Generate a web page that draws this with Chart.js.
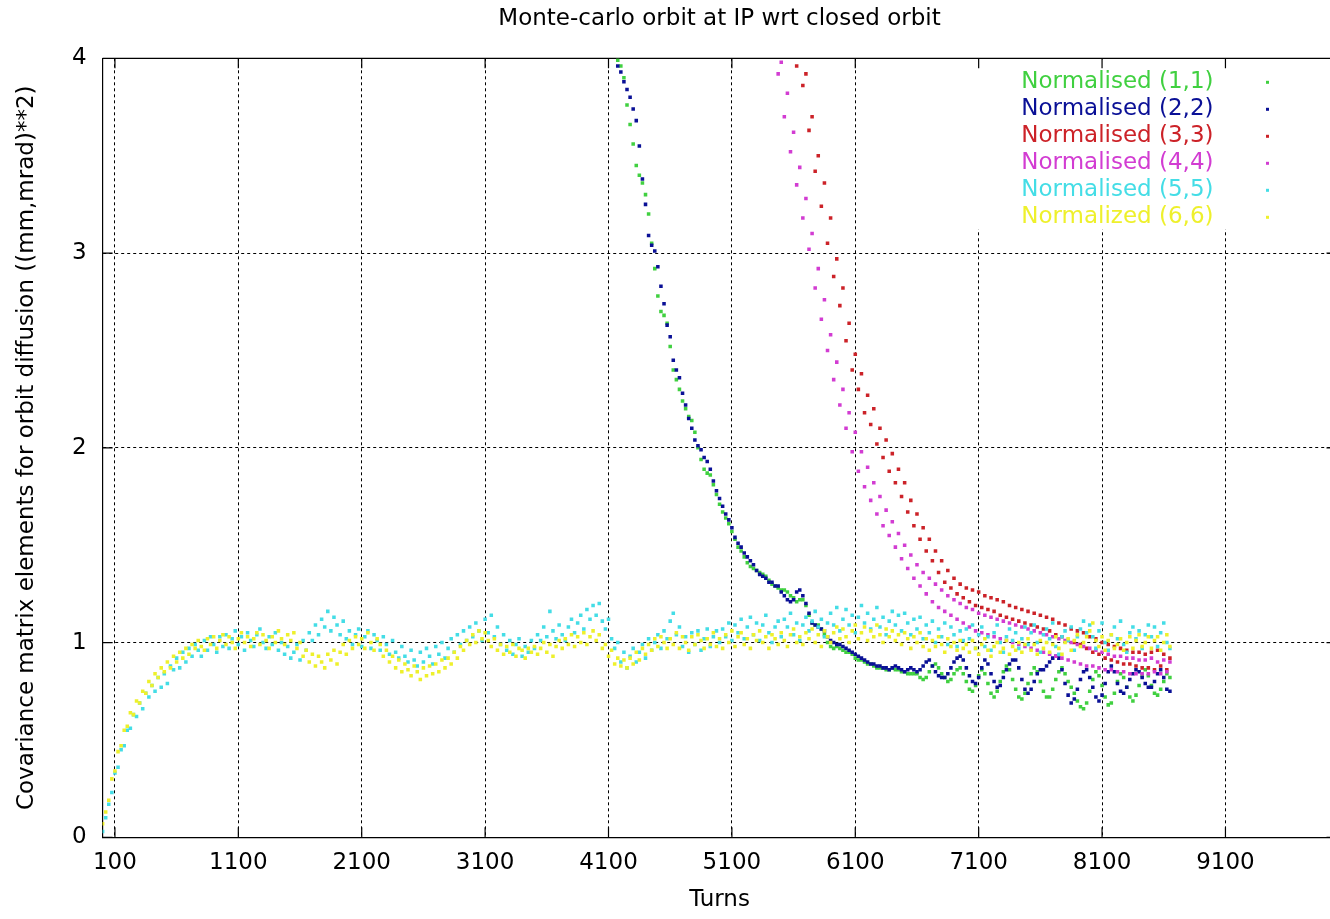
<!DOCTYPE html>
<html>
<head>
<meta charset="utf-8">
<title>Monte-carlo orbit at IP wrt closed orbit</title>
<script src="https://cdn.jsdelivr.net/npm/chart.js@4.4.1/dist/chart.umd.min.js"></script>
<style>
  html, body { margin: 0; padding: 0; background: #fff; overflow: hidden; }
  #wrap { position: relative; width: 1339px; height: 919px; }
</style>
</head>
<body>
<div id="wrap"><canvas id="chartCanvas"></canvas></div>
<script>
const chartTitle = "Monte-carlo orbit at IP wrt closed orbit";
const xTitle = "Turns";
const yTitle = "Covariance matrix elements for orbit diffusion ((mm,mrad)**2)";

const xTicks = [100, 1100, 2100, 3100, 4100, 5100, 6100, 7100, 8100, 9100];
const yTicks = [0, 1, 2, 3, 4];

const seriesNames = ["Normalised (1,1)", "Normalised (2,2)", "Normalised (3,3)",
  "Normalised (4,4)", "Normalised (5,5)", "Normalized (6,6)"];
const seriesColors = ["#40d040", "#0a1096", "#cc2228", "#d23cd2", "#44dde6", "#eef02c"];

// sampled turns
const turns = [
  0,25,50,75,100,125,150,175,200,225,250,275,300,325,350,375,400,425,450,475,
  500,525,550,575,600,625,650,675,700,725,750,775,800,825,850,875,900,925,950,975,
  1000,1025,1050,1075,1100,1125,1150,1175,1200,1225,1250,1275,1300,1325,1350,1375,1400,1425,1450,1475,
  1500,1525,1550,1575,1600,1625,1650,1675,1700,1725,1750,1775,1800,1825,1850,1875,1900,1925,1950,1975,
  2000,2025,2050,2075,2100,2125,2150,2175,2200,2225,2250,2275,2300,2325,2350,2375,2400,2425,2450,2475,
  2500,2525,2550,2575,2600,2625,2650,2675,2700,2725,2750,2775,2800,2825,2850,2875,2900,2925,2950,2975,
  3000,3025,3050,3075,3100,3125,3150,3175,3200,3225,3250,3275,3300,3325,3350,3375,3400,3425,3450,3475,
  3500,3525,3550,3575,3600,3625,3650,3675,3700,3725,3750,3775,3800,3825,3850,3875,3900,3925,3950,3975,
  4000,4025,4050,4075,4100,4125,4150,4175,4200,4225,4250,4275,4300,4325,4350,4375,4400,4425,4450,4475,
  4500,4525,4550,4575,4600,4625,4650,4675,4700,4725,4750,4775,4800,4825,4850,4875,4900,4925,4950,4975,
  5000,5025,5050,5075,5100,5125,5150,5175,5200,5225,5250,5275,5300,5325,5350,5375,5400,5425,5450,5475,
  5500,5525,5550,5575,5600,5625,5650,5675,5700,5725,5750,5775,5800,5825,5850,5875,5900,5925,5950,5975,
  6000,6025,6050,6075,6100,6125,6150,6175,6200,6225,6250,6275,6300,6325,6350,6375,6400,6425,6450,6475,
  6500,6525,6550,6575,6600,6625,6650,6675,6700,6725,6750,6775,6800,6825,6850,6875,6900,6925,6950,6975,
  7000,7025,7050,7075,7100,7125,7150,7175,7200,7225,7250,7275,7300,7325,7350,7375,7400,7425,7450,7475,
  7500,7525,7550,7575,7600,7625,7650,7675,7700,7725,7750,7775,7800,7825,7850,7875,7900,7925,7950,7975,
  8000,8025,8050,8075,8100,8125,8150,8175,8200,8225,8250,8275,8300,8325,8350,8375,8400,8425,8450,8475,
  8500,8525,8550,8575,8600,8625,8650
];

// (1,1) and (2,2) from turn 4100
const norm11 = [
  4.20,4.10,4.03,3.99,3.96,3.90,3.76,3.66,3.56,3.45,3.40,3.36,3.30,3.20,3.05,2.92,2.78,2.70,2.68,2.64,
  2.52,2.40,2.35,2.30,2.24,2.20,2.16,2.14,2.08,2.00,1.94,1.89,1.87,1.86,1.81,1.76,1.71,1.67,1.64,1.61,
  1.57,1.53,1.49,1.47,1.44,1.41,1.39,1.38,1.37,1.36,1.35,1.34,1.32,1.30,1.29,1.28,1.27,1.27,1.26,1.24,
  1.23,1.21,1.22,1.22,1.19,1.14,1.10,1.09,1.09,1.07,1.04,1.00,0.98,0.97,0.98,0.97,0.96,0.95,0.95,0.94,
  0.92,0.91,0.91,0.90,0.89,0.89,0.88,0.87,0.87,0.87,0.86,0.86,0.87,0.86,0.86,0.85,0.85,0.84,0.84,0.84,
  0.84,0.82,0.81,0.82,0.85,0.88,0.89,0.87,0.84,0.82,0.80,0.81,0.84,0.86,0.87,0.84,0.80,0.76,0.75,0.78,
  0.83,0.86,0.84,0.79,0.74,0.72,0.75,0.80,0.85,0.88,0.86,0.81,0.76,0.72,0.71,0.74,0.79,0.84,0.87,0.85,
  0.80,0.75,0.72,0.72,0.76,0.81,0.85,0.87,0.84,0.80,0.77,0.74,0.70,0.67,0.66,0.69,0.75,0.81,0.85,0.83,
  0.78,0.72,0.68,0.69,0.74,0.80,0.84,0.82,0.77,0.72,0.70,0.73,0.78,0.83,0.86,0.83,0.78,0.74,0.73,0.76,
  0.80,0.84,0.82
];
const norm22 = [
  4.12,4.06,4.01,3.96,3.93,3.88,3.84,3.80,3.74,3.68,3.55,3.38,3.25,3.09,3.04,3.01,2.93,2.83,2.74,2.63,
  2.57,2.45,2.40,2.36,2.28,2.22,2.15,2.10,2.04,2.01,1.99,1.95,1.93,1.89,1.83,1.78,1.74,1.70,1.66,1.63,
  1.59,1.54,1.51,1.49,1.46,1.44,1.42,1.40,1.37,1.35,1.34,1.33,1.31,1.31,1.29,1.29,1.26,1.24,1.22,1.21,
  1.22,1.26,1.27,1.24,1.20,1.15,1.10,1.09,1.08,1.07,1.06,1.03,1.01,1.00,0.99,0.99,0.98,0.97,0.96,0.95,
  0.94,0.93,0.92,0.91,0.90,0.89,0.89,0.88,0.88,0.87,0.87,0.86,0.87,0.88,0.87,0.86,0.85,0.86,0.87,0.86,
  0.85,0.86,0.88,0.90,0.91,0.88,0.85,0.83,0.82,0.82,0.84,0.87,0.90,0.92,0.93,0.91,0.87,0.83,0.80,0.79,
  0.82,0.87,0.91,0.89,0.84,0.80,0.77,0.78,0.82,0.86,0.89,0.91,0.91,0.87,0.81,0.76,0.74,0.76,0.80,0.84,
  0.86,0.86,0.88,0.90,0.92,0.93,0.92,0.86,0.79,0.73,0.69,0.71,0.76,0.81,0.85,0.86,0.82,0.77,0.72,0.70,
  0.73,0.79,0.85,0.88,0.85,0.79,0.75,0.74,0.77,0.81,0.84,0.86,0.85,0.82,0.79,0.77,0.77,0.80,0.84,0.86,
  0.82,0.76,0.75
];

// (3,3) and (4,4) from turn 5450
const norm33 = [
  4.50,4.45,4.38,4.30,4.25,4.18,4.12,3.96,4.02,3.86,3.92,3.63,3.70,3.42,3.50,3.24,3.36,3.05,3.18,2.88,
  2.97,2.73,2.82,2.55,2.64,2.40,2.48,2.30,2.38,2.18,2.27,2.12,2.20,2.02,2.10,1.95,2.04,1.88,1.97,1.82,
  1.89,1.75,1.82,1.67,1.73,1.60,1.66,1.53,1.59,1.47,1.53,1.42,1.47,1.36,1.42,1.31,1.37,1.28,1.33,1.25,
  1.30,1.23,1.28,1.21,1.27,1.19,1.26,1.18,1.24,1.17,1.23,1.16,1.22,1.14,1.21,1.13,1.19,1.12,1.18,1.11,
  1.17,1.10,1.16,1.09,1.15,1.08,1.14,1.07,1.13,1.06,1.12,1.04,1.10,1.03,1.09,1.01,1.07,1.00,1.06,0.99,
  1.05,0.97,1.03,0.95,1.02,0.94,1.00,0.92,0.99,0.91,0.98,0.90,0.97,0.89,0.96,0.89,0.95,0.88,0.95,0.87,
  0.94,0.87,0.95,0.86,0.96,0.88,0.94,0.86,0.92
];
const norm44 = [
  4.15,3.92,3.98,3.70,3.82,3.52,3.62,3.35,3.44,3.18,3.28,3.02,3.10,2.82,2.92,2.66,2.76,2.50,2.58,2.35,
  2.44,2.22,2.30,2.10,2.18,1.98,2.08,1.88,1.98,1.80,1.90,1.73,1.82,1.66,1.75,1.60,1.68,1.55,1.62,1.49,
  1.56,1.43,1.50,1.38,1.45,1.33,1.40,1.29,1.36,1.25,1.33,1.21,1.30,1.18,1.27,1.16,1.24,1.14,1.22,1.12,
  1.20,1.10,1.18,1.08,1.17,1.06,1.15,1.05,1.14,1.04,1.13,1.03,1.12,1.02,1.11,1.01,1.10,1.00,1.09,0.99,
  1.08,0.98,1.07,0.97,1.06,0.96,1.05,0.95,1.04,0.94,1.03,0.93,1.02,0.92,1.01,0.91,1.00,0.90,0.99,0.89,
  0.98,0.88,0.97,0.88,0.96,0.87,0.95,0.86,0.94,0.86,0.93,0.85,0.93,0.85,0.92,0.84,0.92,0.84,0.91,0.84,
  0.91,0.84,0.92,0.85,0.90,0.84,0.91,0.85,0.90
];

// (5,5) and (6,6) from turn 0
const norm55 = [
  0.03,0.10,0.17,0.23,0.33,0.36,0.45,0.47,0.55,0.56,0.63,0.62,0.69,0.66,0.74,0.72,0.78,0.75,0.82,0.77,
  0.84,0.79,0.88,0.86,0.92,0.87,0.95,0.90,0.97,0.93,0.99,0.96,0.93,1.01,0.96,1.03,0.99,0.95,1.03,0.98,
  1.04,0.97,1.02,1.06,0.99,1.03,0.96,1.05,1.01,0.98,1.04,1.07,1.00,0.97,1.03,0.99,1.05,0.96,1.00,0.94,
  0.98,0.92,0.95,0.99,0.91,1.01,0.96,1.05,1.01,1.09,1.04,1.12,1.08,1.16,1.06,1.13,1.09,1.04,1.11,1.02,
  1.06,0.99,1.04,1.07,0.98,1.03,1.06,0.97,1.04,1.01,0.96,1.03,0.99,0.94,1.01,0.95,0.92,0.98,0.93,0.90,
  0.96,0.91,0.88,0.95,0.90,0.97,0.93,0.89,0.98,0.94,1.00,0.92,0.97,1.02,0.95,1.04,0.99,1.06,1.01,1.08,
  1.03,1.10,1.06,1.01,1.12,1.05,1.14,1.03,1.08,0.99,1.04,0.96,1.01,0.94,0.99,1.02,0.93,0.98,0.95,1.01,
  0.97,1.04,1.01,1.08,1.03,1.16,1.06,1.02,1.09,1.04,1.01,1.08,1.12,1.05,1.10,1.14,1.07,1.17,1.12,1.19,
  1.14,1.20,1.11,1.07,1.12,1.02,0.97,1.00,0.90,0.95,0.87,0.93,0.97,0.90,0.95,0.99,0.92,1.02,0.96,1.00,
  1.04,0.97,1.06,1.02,1.11,1.15,1.04,1.08,0.98,1.03,0.95,1.05,0.99,1.06,0.96,1.02,1.07,0.98,1.03,1.06,
  1.00,1.07,1.03,1.10,1.01,1.09,1.05,1.12,1.02,1.08,1.13,1.04,1.10,1.01,1.09,1.14,1.05,1.00,1.08,1.11,
  1.03,1.12,1.08,1.15,1.04,1.10,1.01,1.09,1.13,1.06,1.11,1.16,1.08,1.12,1.03,1.10,1.15,1.09,1.18,1.06,
  1.12,1.17,1.09,1.14,1.05,1.13,1.19,1.10,1.15,1.07,1.12,1.18,1.08,1.13,1.04,1.11,1.16,1.09,1.14,1.06,
  1.15,1.10,1.04,1.12,1.07,1.13,1.02,1.09,1.05,1.11,1.00,1.07,1.03,1.10,0.99,1.08,1.04,0.98,1.06,1.01,
  1.07,1.02,1.09,0.97,1.04,1.08,0.98,1.03,0.96,1.05,1.09,1.00,0.95,1.03,1.07,1.01,1.05,0.97,1.02,1.08,
  0.99,1.05,1.09,1.00,0.95,1.04,1.07,1.02,1.10,0.98,0.94,1.03,1.06,1.01,1.08,0.96,1.03,1.07,1.11,1.05,
  1.09,1.03,0.97,1.06,1.10,1.00,0.96,1.04,1.08,1.02,1.11,0.99,0.95,1.05,1.08,1.02,1.06,0.97,1.04,1.09,
  1.03,1.08,0.98,1.05,1.10,1.00,0.97
];
const norm66 = [
  0.07,0.13,0.19,0.30,0.34,0.44,0.47,0.55,0.57,0.64,0.63,0.70,0.69,0.75,0.74,0.80,0.78,0.84,0.82,0.87,
  0.85,0.90,0.87,0.93,0.90,0.95,0.92,0.97,0.94,0.99,0.97,1.01,0.98,0.96,1.02,0.99,1.03,0.97,1.01,1.04,
  0.99,1.03,1.00,0.97,1.02,1.05,1.00,1.03,0.98,1.02,1.05,0.99,1.04,1.01,0.97,1.03,1.00,1.06,1.02,0.99,
  1.04,1.01,1.05,0.97,1.00,0.93,0.96,0.90,0.94,0.88,0.93,0.90,0.87,0.94,0.91,0.96,0.89,0.95,0.99,0.94,
  1.01,0.97,1.03,0.99,1.02,0.97,1.05,1.00,0.96,1.02,0.99,0.93,0.96,0.90,0.93,0.87,0.91,0.85,0.89,0.86,
  0.83,0.88,0.85,0.81,0.87,0.83,0.88,0.84,0.89,0.85,0.91,0.87,0.92,0.89,0.95,0.92,0.98,0.96,1.01,0.99,
  1.04,1.00,1.06,1.02,1.05,1.01,0.98,1.02,0.96,0.99,0.94,0.98,0.95,0.99,0.93,0.97,0.96,0.92,0.97,0.95,
  0.98,0.94,0.97,1.00,0.95,0.99,0.93,0.98,1.01,0.97,1.02,0.99,1.04,0.98,1.03,1.00,1.05,0.99,1.03,1.06,
  1.01,1.04,0.97,0.99,0.93,0.96,0.89,0.92,0.88,0.91,0.87,0.92,0.89,0.95,0.91,0.97,0.94,0.99,0.96,1.02,
  0.98,1.03,1.00,0.97,1.02,0.99,1.05,0.97,1.03,1.00,0.96,1.03,0.99,1.04,1.01,0.97,1.02,0.99,1.05,0.98,
  1.02,0.97,1.04,1.00,1.06,0.98,1.03,1.05,0.99,1.02,0.97,1.04,1.01,1.06,1.00,1.03,0.97,1.04,1.02,0.99,
  1.05,1.01,0.98,1.04,1.07,1.00,1.03,0.99,1.05,1.02,1.07,1.00,1.04,0.98,1.06,1.03,1.00,1.05,1.08,1.02,
  1.07,1.03,1.00,1.06,1.09,1.02,1.05,1.08,1.01,1.06,1.03,1.09,1.04,1.00,1.07,1.03,1.06,1.01,1.04,0.99,
  1.05,1.02,0.97,1.03,1.00,1.05,0.98,1.02,0.96,1.01,0.98,1.03,0.99,0.95,1.02,0.98,1.00,0.96,1.01,0.97,
  0.99,0.95,1.01,0.97,0.94,0.99,1.02,0.96,0.93,0.98,1.00,0.95,0.97,1.01,0.94,0.98,0.96,1.00,0.95,0.99,
  1.02,0.96,0.99,0.94,1.01,0.97,1.00,0.95,0.99,1.03,0.97,0.94,1.00,1.02,0.96,1.01,1.04,0.98,1.00,1.03,
  1.06,1.10,1.01,0.98,1.03,0.96,1.01,1.04,0.97,0.99,1.02,0.96,1.00,1.03,0.97,1.01,1.04,0.98,1.00,1.03,
  0.97,1.01,1.03,0.96,1.00,1.04,0.98
];

const seriesStart = [4100, 4100, 5450, 5450, 0, 0];
const seriesValues = [norm11, norm22, norm33, norm44, norm55, norm66];

function toPoints(startTurn, values) {
  const k = turns.indexOf(startTurn);
  return values.map((v, i) => ({ x: turns[k + i], y: v }));
}

const font = { family: "DejaVu Sans", size: 23, weight: "normal", lineHeight: 1.2 };

// gnuplot look: full frame, inward tick marks, key in the top right corner
const gnuFrame = {
  id: "gnuFrame",
  beforeDatasetsDraw(chart) {
    const { ctx, chartArea: a, scales: { x, y } } = chart;
    ctx.save();
    ctx.fillStyle = "#fff";
    ctx.fillRect(a.right - 374, a.top + 1, 334, 170);
    ctx.strokeStyle = "#000";
    ctx.lineWidth = 1.2;
    ctx.beginPath();
    ctx.moveTo(a.left, a.top); ctx.lineTo(a.right, a.top); ctx.lineTo(a.right, a.bottom);
    xTicks.forEach(v => {
      const px = x.getPixelForValue(v);
      ctx.moveTo(px, a.top); ctx.lineTo(px, a.top + 10);
      ctx.moveTo(px, a.bottom); ctx.lineTo(px, a.bottom - 10);
    });
    yTicks.forEach(v => {
      const py = y.getPixelForValue(v);
      ctx.moveTo(a.left, py); ctx.lineTo(a.left + 10, py);
      ctx.moveTo(a.right, py); ctx.lineTo(a.right - 10, py);
    });
    ctx.stroke();
    ctx.restore();
  },
  afterDatasetsDraw(chart) {
    const { ctx, chartArea: a } = chart;
    ctx.save();
    ctx.font = font.size + 'px "' + font.family + '"';
    ctx.textAlign = "right";
    ctx.textBaseline = "middle";
    chart.data.datasets.forEach((ds, i) => {
      const yy = a.top + 24 + i * 27;
      ctx.fillStyle = ds.backgroundColor;
      ctx.fillText(ds.label, a.right - 123, yy);
      ctx.fillRect(a.right - 70.5, yy - 1.5, 3, 3);
    });
    ctx.restore();
  }
};

const ctx = document.getElementById("chartCanvas").getContext("2d");

new Chart(ctx, {
  type: "scatter",
  data: {
    datasets: seriesNames.map((name, i) => ({
      label: name,
      data: toPoints(seriesStart[i], seriesValues[i]),
      backgroundColor: seriesColors[i],
      borderColor: seriesColors[i],
      pointStyle: "rect",
      pointRadius: 2.5,
      pointHoverRadius: 2.5,
      pointBorderWidth: 0,
      order: seriesNames.length - i
    }))
  },
  options: {
    responsive: true,
    maintainAspectRatio: false,
    animation: false,
    events: [],
    layout: { padding: 0 },
    plugins: {
      legend: { display: false },
      tooltip: { enabled: false },
      title: {
        display: true,
        text: chartTitle,
        fullSize: false,
        color: "#000",
        font: font,
        padding: { top: 5, bottom: 25.7 }
      }
    },
    scales: {
      x: {
        type: "linear",
        min: 0,
        max: 10000,
        afterBuildTicks: s => { s.ticks = xTicks.map(v => ({ value: v })); },
        afterFit: s => { s.height = 81.7; },
        grid: { color: "#000", lineWidth: 1, drawTicks: false },
        border: { color: "#000", width: 1.2, dash: [3, 3] },
        ticks: { color: "#000", font: font, padding: 12, maxRotation: 0, callback: v => String(v) },
        title: { display: true, text: xTitle, color: "#000", font: font, padding: { top: 0, bottom: 5 } }
      },
      y: {
        type: "linear",
        min: 0,
        max: 4,
        afterBuildTicks: s => { s.ticks = yTicks.map(v => ({ value: v })); },
        afterFit: s => { s.width = 102.6; },
        grid: { color: "#000", lineWidth: 1, drawTicks: false },
        border: { color: "#000", width: 1.2, dash: [3, 3] },
        ticks: { color: "#000", font: font, padding: 16, callback: v => String(v) },
        title: { display: true, text: yTitle, color: "#000", font: font, padding: { top: 13, bottom: 0 } }
      }
    }
  },
  plugins: [gnuFrame]
});
</script>
</body>
</html>
